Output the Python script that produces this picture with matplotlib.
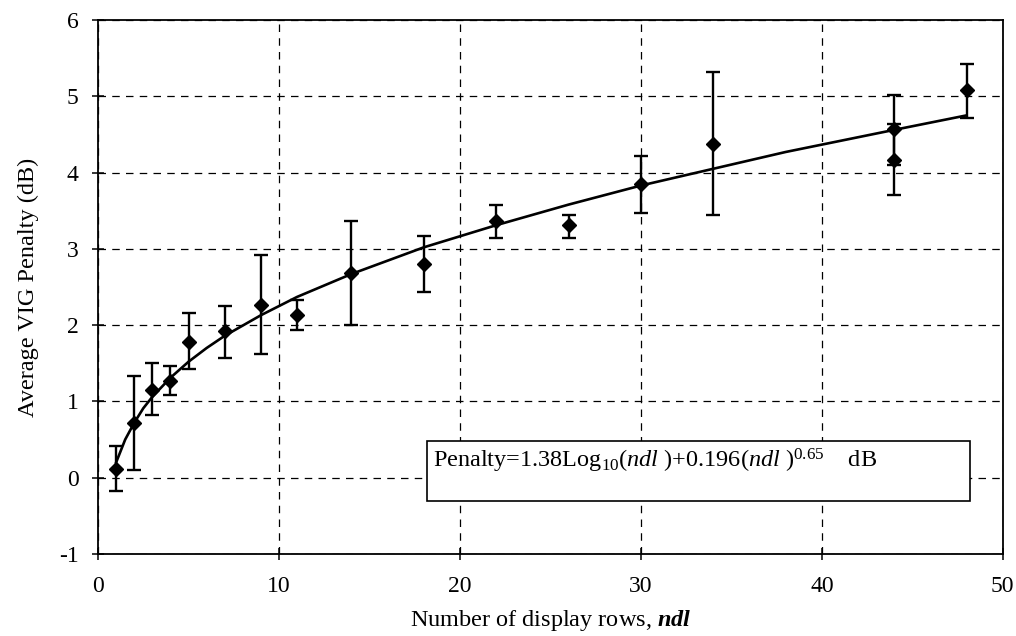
import matplotlib
matplotlib.use("Agg")
import matplotlib.pyplot as plt
from matplotlib.patches import Rectangle

plt.rcParams['font.family'] = ['Liberation Serif', 'DejaVu Serif']
plt.rcParams['mathtext.fontset'] = 'custom'
plt.rcParams['mathtext.rm'] = 'Liberation Serif'
plt.rcParams['mathtext.it'] = 'Liberation Serif:italic'
plt.rcParams['mathtext.bf'] = 'Liberation Serif:bold'
plt.rcParams['mathtext.bfit'] = 'Liberation Serif:italic:bold'
plt.rcParams['axes.unicode_minus'] = False

# measured points (ndl, mean penalty, lower/upper error bar ends)
ndl = [1, 2, 3, 4, 5, 7, 9, 11, 14, 18, 22, 26, 30, 34, 44, 44, 48]
penalty = [0.11, 0.72, 1.15, 1.27, 1.78, 1.92, 2.27, 2.13, 2.68, 2.80, 3.36, 3.31, 3.85, 4.38, 4.57, 4.17, 5.08]
err_lo = [-0.18, 0.10, 0.82, 1.08, 1.42, 1.57, 1.62, 1.93, 2.00, 2.43, 3.14, 3.14, 3.47, 3.44, 4.10, 3.70, 4.71]
err_hi = [0.42, 1.33, 1.50, 1.47, 2.16, 2.25, 2.92, 2.33, 3.37, 3.17, 3.57, 3.45, 4.22, 5.32, 5.02, 4.64, 5.43]

# fitted curve
fit_x = [1, 1.5, 2, 2.5, 3, 4, 5, 6, 7, 9, 11, 14, 18, 22, 26, 30, 34, 38, 44, 48]
fit_y = [0.20, 0.50, 0.72, 0.91, 1.06, 1.31, 1.52, 1.70, 1.86, 2.13, 2.37, 2.67, 3.02, 3.31, 3.58, 3.83, 4.05, 4.27, 4.56, 4.75]

yerr = [[p - lo for p, lo in zip(penalty, err_lo)],
        [hi - p for p, hi in zip(penalty, err_hi)]]

fig = plt.figure(figsize=(10.16, 6.36), dpi=100)
ax = fig.add_axes([0.0965, 0.129, 0.8905, 0.8395])

ax.plot(fit_x, fit_y, color='black', lw=1.9, zorder=3)
ax.errorbar(ndl, penalty, yerr=yerr, fmt='D', color='black', ms=7,
            ecolor='black', elinewidth=1.7, capsize=5, capthick=1.7, zorder=4)

ax.set_xlim(0, 50)
ax.set_ylim(-1, 6)
ax.set_xticks(range(0, 51, 10))
ax.set_yticks(range(-1, 7))
ax.grid(True, color='black', linestyle=(0, (6, 5)), linewidth=0.9)
ax.set_axisbelow(True)
for s in ax.spines.values():
    s.set_linewidth(1.3)
ax.tick_params(direction='inout', length=8, width=1.1, labelsize=17)
ax.tick_params(axis='x', pad=12)
ax.tick_params(axis='y', pad=10)

ax.set_xlabel(r"Number of display rows, $\mathbfit{ndl}$", fontsize=17.5, labelpad=8)
ax.set_ylabel("Average VIG Penalty (dB)", fontsize=17.5, labelpad=14)

box = Rectangle((18.2, -0.30), 30.0, 0.78, facecolor='white', edgecolor='black',
                lw=1.2, zorder=5)
ax.add_patch(box)
ax.text(18.5, 0.22,
        r"Penalty=1.38Log$_{10}$($\it{ndl}$ )+0.196($\it{ndl}$ )$^{0.65}$    dB",
        fontsize=17.5, va='center', ha='left', zorder=6)

fig.savefig("out.png", dpi=100)
